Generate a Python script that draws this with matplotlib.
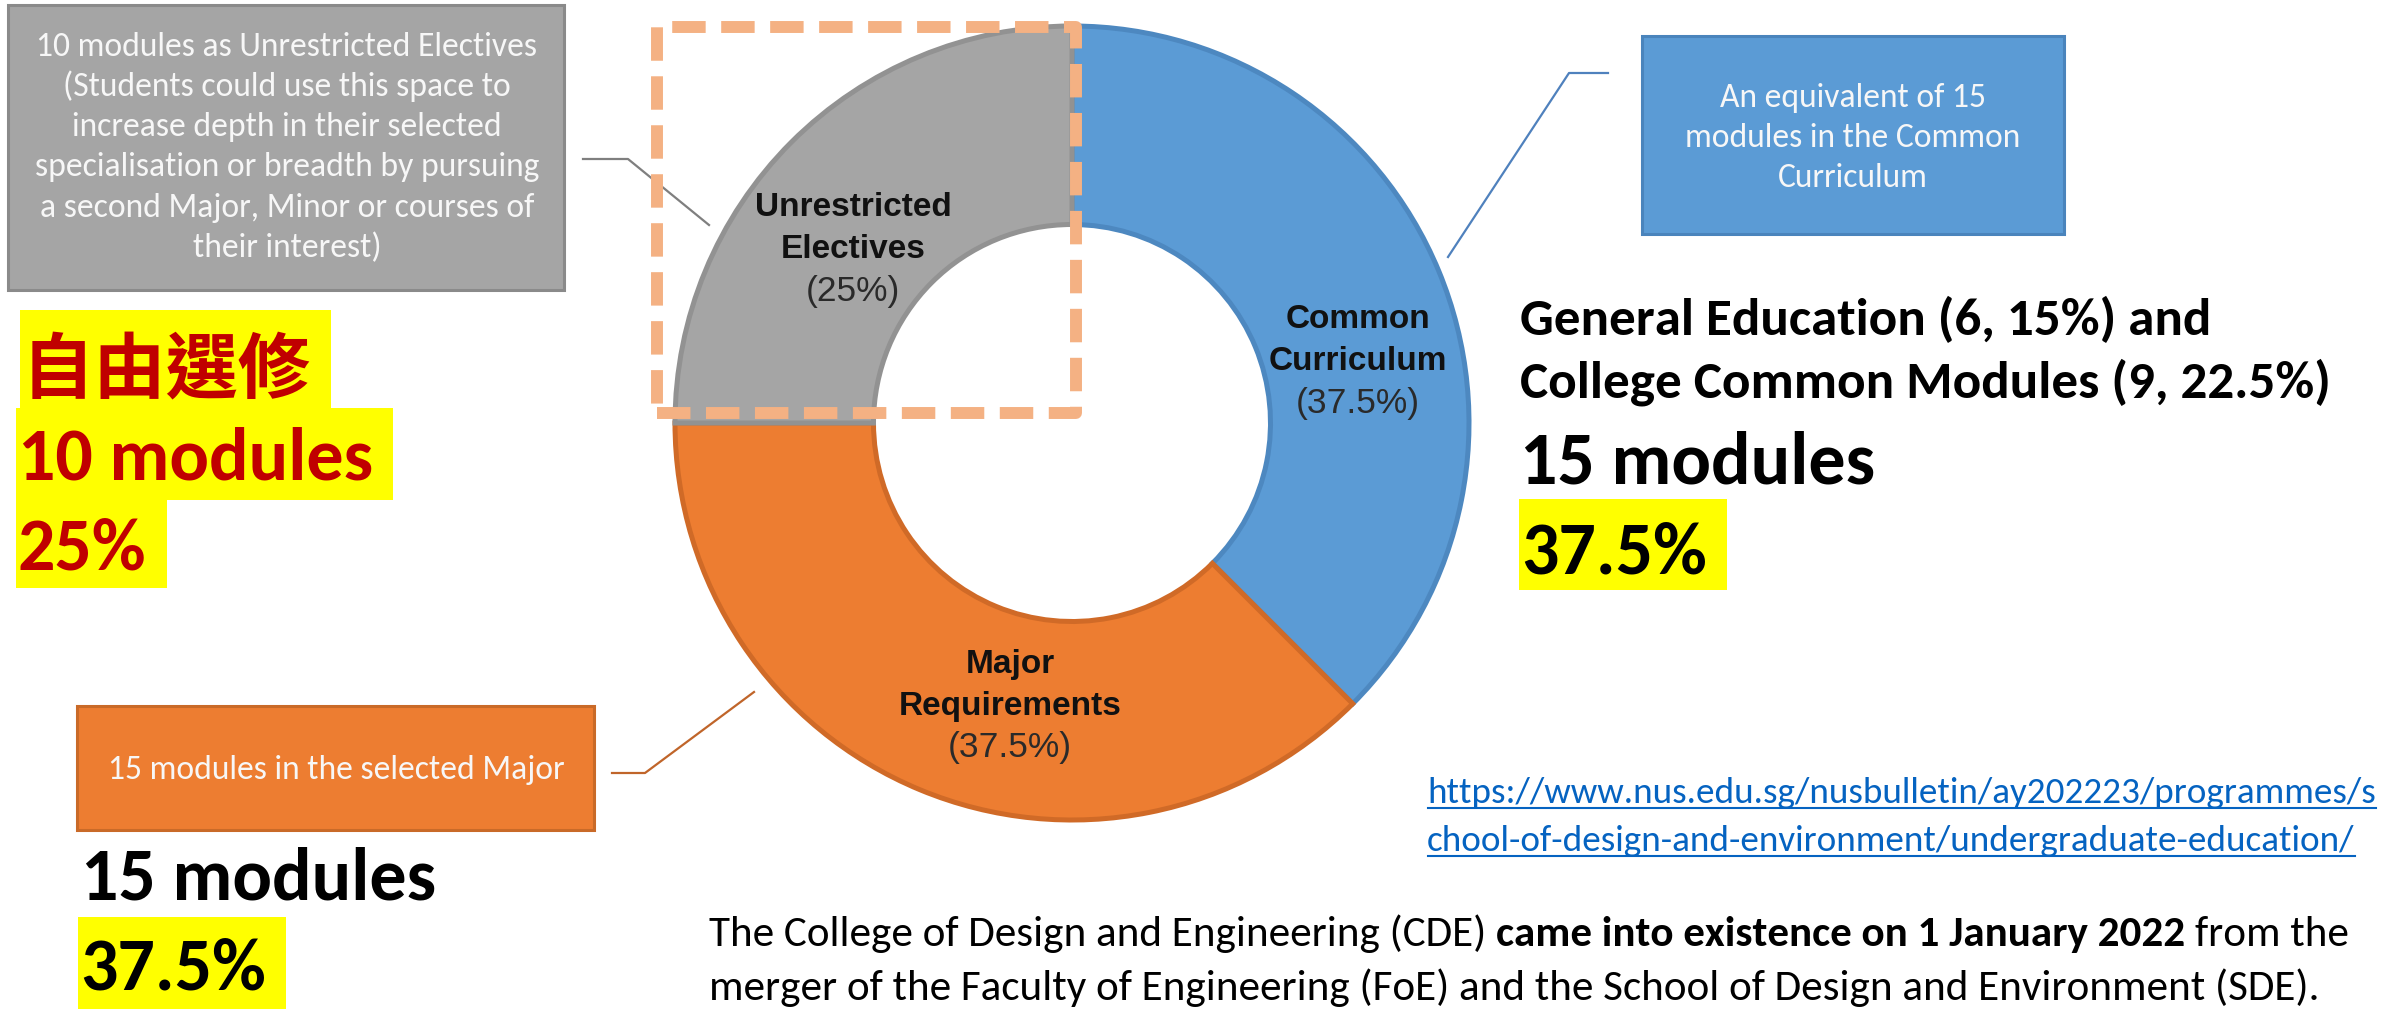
import matplotlib
matplotlib.use("Agg")
import matplotlib.pyplot as plt
from matplotlib.patches import Rectangle

# ---------------- data ----------------
categories = ["Common Curriculum", "Major Requirements", "Unrestricted Electives"]
shares = [37.5, 37.5, 25.0]          # percent of 40 modules
modules = [15, 15, 10]

gray_note = ["10 modules as Unrestricted Electives",
             "(Students could use this space to",
             "increase depth in their selected",
             "specialisation or breadth by pursuing",
             "a second Major, Minor or courses of",
             "their interest)"]
blue_note = ["An equivalent of 15", "modules in the Common", "Curriculum"]
orange_note = ["15 modules in the selected Major"]

elective_zh = "自由選修"
cc_parts = ["General Education (6, 15%) and", "College Common Modules (9, 22.5%)"]
url_lines = ["https://www.nus.edu.sg/nusbulletin/ay202223/programmes/s",
             "chool-of-design-and-environment/undergraduate-education/"]
para1 = [("The College of Design and Engineering (CDE)", False),
         ("came into existence on 1 January 2022", True),
         ("from the", False)]
para2 = [("merger of the Faculty of Engineering (FoE) and the School of Design and Environment (SDE).", False)]

# ---------------- style ----------------
fill_colors = ["#5B9BD5", "#ED7D31", "#A5A5A5"]
edge_colors = ["#4D88C0", "#D06A27", "#929292"]
CAL = "Carlito"
ARI = ["Liberation Sans", "DejaVu Sans"]
CJK = ["Noto Sans CJK TC", "DejaVu Sans"]
RED = "#C00000"
YEL = "#FFFF00"

W, H = 2389, 1009
fig = plt.figure(figsize=(W / 100, H / 100), dpi=100)
ax = fig.add_axes([0, 0, 1, 1])
R = fig.canvas.get_renderer()


def Y(y):
    return H - y


def width_of(t):
    return t.get_window_extent(renderer=R).width


def fit_size(s, target, **kw):
    t = ax.text(0, 0, s, fontsize=20, **kw)
    w = width_of(t)
    t.remove()
    return 20 * target / w


# ---------------- donut ----------------
cx, cy, rad = 1072, 423, 397
wedges, _ = ax.pie(shares, colors=fill_colors, startangle=90, counterclock=False,
                   radius=rad, center=(cx, Y(cy)),
                   wedgeprops=dict(width=rad * 0.5, linewidth=3.6), frame=True)
for w, ec in zip(wedges, edge_colors):
    w.set_edgecolor(ec)
    w.set_zorder(2)

ax.set_xlim(0, W)
ax.set_ylim(0, H)
ax.set_aspect("auto")
ax.axis("off")

# in-ring labels: (x center, y of first line)
label_pos = [(1358, 320), (1010, 665), (853, 208)]
for name, share, (lx, ly) in zip(categories, shares, label_pos):
    w1, w2 = name.split(" ")
    for k, s in enumerate([w1, w2]):
        ax.text(lx, Y(ly + 41 * k), s, fontsize=24, family=ARI, fontweight="bold",
                ha="center", va="center", color="#111111", zorder=5)
    ax.text(lx, Y(ly + 83), f"({share:g}%)", fontsize=25.5, family=ARI,
            ha="center", va="center", color="#2A2A2A", zorder=5)

# dashed highlight frame around the electives quarter
ax.add_patch(Rectangle((657, Y(413)), 1076 - 657, 413 - 27, fill=False,
                       edgecolor="#F4B183", linewidth=8.6,
                       linestyle=(0, (2.8, 1.3)), joinstyle="round", zorder=6))

# ---------------- callout boxes ----------------
box_size = fit_size(gray_note[0], 502, family=CAL)


def note_box(x0, y0, x1, y1, fc, ec, lines, baselines, xc):
    ax.add_patch(Rectangle((x0, Y(y1)), x1 - x0, y1 - y0, facecolor=fc,
                           edgecolor=ec, linewidth=2.2, zorder=3))
    for s, b in zip(lines, baselines):
        ax.text(xc, Y(b), s, fontsize=box_size, family=CAL, color="#F7F7F7",
                ha="center", va="baseline", zorder=4)


note_box(8, 5, 564, 290, "#A5A5A5", "#8A8A8A", gray_note,
         [56, 96, 136, 176, 217, 257], 287)
note_box(1642, 36, 2064, 234, "#5B9BD5", "#4A84BC", blue_note,
         [107, 147, 187], 1853)
note_box(77, 706, 594, 830, "#ED7D31", "#C96A28", orange_note, [779], 336)

# connector lines
ax.plot([583, 628, 709], [Y(159), Y(159), Y(225)], color="#7F7F7F", lw=1.6, zorder=3)
ax.plot([1448, 1569, 1608], [Y(257), Y(73), Y(73)], color="#4F81BD", lw=1.6, zorder=3)
ax.plot([612, 645, 754], [Y(773), Y(773), Y(692)], color="#C0652A", lw=1.6, zorder=3)

# ---------------- big annotations ----------------
big = fit_size("10 modules", 355, family=CAL, fontweight="bold")


def hl_text(x, base, s, color, top, bottom, family=CAL, size=None, pad=20):
    t = ax.text(x, Y(base), s, fontsize=size or big, family=family, fontweight="bold",
                color=color, ha="left", va="baseline", zorder=5)
    if top is not None:
        bb = t.get_window_extent(renderer=R)
        ax.add_patch(Rectangle((x - 2, Y(bottom)), bb.x1 + pad - (x - 2), bottom - top,
                               facecolor=YEL, edgecolor="none", zorder=4))
    return t


# left: unrestricted electives
hl_text(22, 392, elective_zh, RED, 310, 408, family=CJK, size=52)
hl_text(18, 480, f"{modules[2]} modules", RED, 408, 500)
hl_text(18, 570, f"{shares[2]:g}%", RED, 500, 588)

# left bottom: major requirements
hl_text(81, 900, f"{modules[1]} modules", "black", None, None)
hl_text(80, 990, f"{shares[1]:g}%", "black", 917, 1009)

# right: common curriculum
cc_size = fit_size(cc_parts[1], 810, family=CAL, fontweight="bold")
for s, b in zip(cc_parts, [335, 397]):
    ax.text(1520, Y(b), s, fontsize=cc_size, family=CAL, fontweight="bold",
            color="black", ha="left", va="baseline", zorder=5)
hl_text(1520, 484, f"{modules[0]} modules", "black", None, None)
hl_text(1521, 573, f"{shares[0]:g}%", "black", 499, 590)

# ---------------- url ----------------
url_size = fit_size(url_lines[0], 948, family=CAL)
for s, b in zip(url_lines, [803, 851]):
    t = ax.text(1427, Y(b), s, fontsize=url_size, family=CAL, color="#0563C1",
                ha="left", va="baseline", zorder=5)
    bb = t.get_window_extent(renderer=R)
    ax.plot([1428, bb.x1], [Y(b + 5), Y(b + 5)], color="#0563C1", lw=1.5, zorder=5)


# ---------------- paragraph ----------------
def space_w(size, bold):
    wt = "bold" if bold else "normal"
    a = ax.text(0, 0, "a a", fontsize=size, family=CAL, fontweight=wt)
    b = ax.text(0, 0, "aa", fontsize=size, family=CAL, fontweight=wt)
    d = width_of(a) - width_of(b)
    a.remove(); b.remove()
    return d


def rich_line(x, base, parts, size):
    cxp = x
    made = []
    for i, (s, bold) in enumerate(parts):
        if i > 0:
            cxp += space_w(size, bold)
        t = ax.text(cxp, Y(base), s, fontsize=size, family=CAL,
                    fontweight="bold" if bold else "normal", color="black",
                    ha="left", va="baseline", zorder=5)
        bb = t.get_window_extent(renderer=R)
        cxp = bb.x1
        made.append(t)
    return made, cxp - x


made, wtot = rich_line(709, 946, para1, 28)
for t in made:
    t.remove()
psize = 28 * 1635 / wtot
rich_line(709, 946, para1, psize)
rich_line(709, 1000, para2, psize)

fig.savefig("out.png", dpi=100)
